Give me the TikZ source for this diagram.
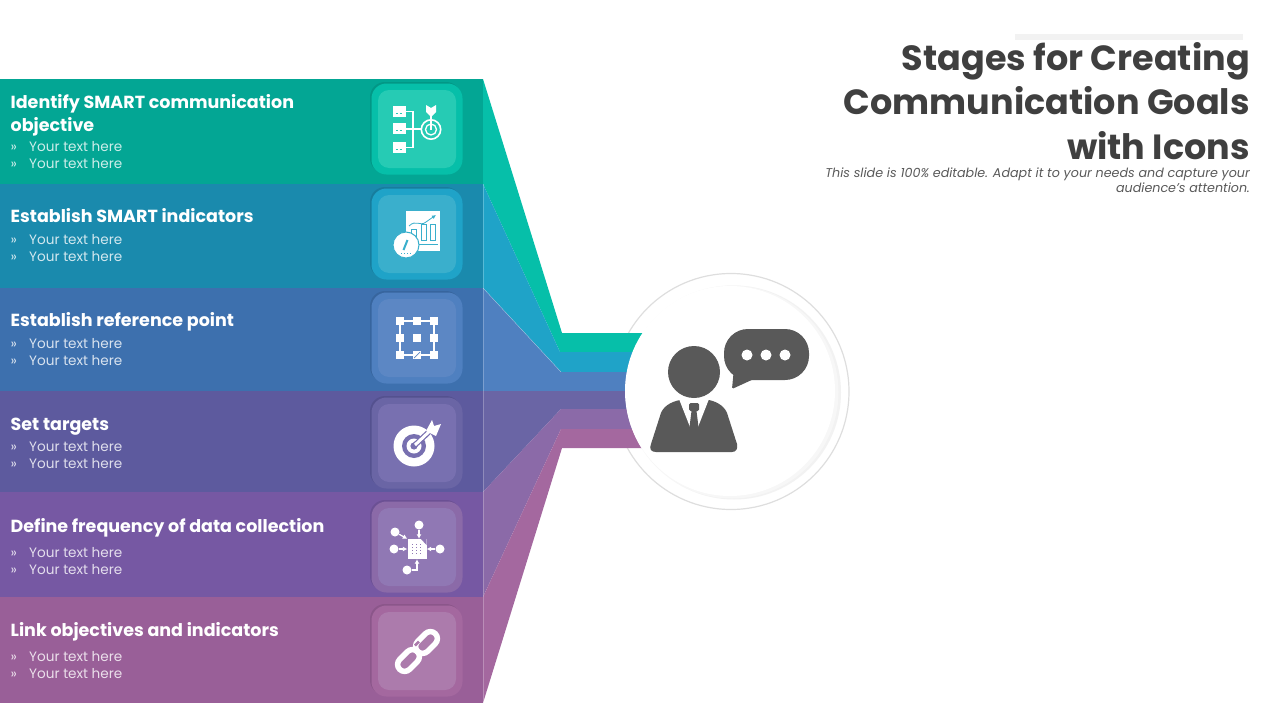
\documentclass[tikz,border=0pt]{standalone}
\usepackage{fontspec}
\setmainfont{Poppins}
\definecolor{bandA}{HTML}{03A694}
\definecolor{bandB}{HTML}{1A8AAD}
\definecolor{bandC}{HTML}{3D70AE}
\definecolor{bandD}{HTML}{5D5A9E}
\definecolor{bandE}{HTML}{7658A3}
\definecolor{bandF}{HTML}{995F98}
\definecolor{fanA}{HTML}{06BFA9}
\definecolor{fanB}{HTML}{1FA3C8}
\definecolor{fanC}{HTML}{4F80C0}
\definecolor{fanD}{HTML}{6A65A5}
\definecolor{fanE}{HTML}{8B6AA8}
\definecolor{fanF}{HTML}{A4689F}
\definecolor{padA}{HTML}{26CBB4}
\definecolor{padB}{HTML}{3AAFCC}
\definecolor{padC}{HTML}{5C87C4}
\definecolor{padD}{HTML}{7870B0}
\definecolor{padE}{HTML}{9078B4}
\definecolor{padF}{HTML}{AC7BAC}
\definecolor{inkgrey}{HTML}{595959}
\definecolor{titlegrey}{HTML}{3F3F3F}
\usetikzlibrary{arrows.meta}
\tikzset{
    heading/.style={anchor=base west,inner sep=0pt,text=white,font=\fontsize{17.5}{23}\selectfont\bfseries,align=left},
    bullets/.style={anchor=base west,inner sep=0pt,text=white,text opacity=.8,font=\fontsize{13.6}{17}\selectfont,align=left},
    titleline/.style={anchor=base east,inner sep=0pt,text=titlegrey,font=\fontsize{35}{44.5}\selectfont\bfseries},
    noteline/.style={anchor=base east,inner sep=0pt,text=inkgrey,font=\fontsize{12.7}{15}\selectfont\itshape},
    padout/.style={rounded corners=15pt,minimum size=91pt,inner sep=0pt},
    padin/.style={rounded corners=11pt,minimum size=78pt,inner sep=0pt},
    padshade/.style={rounded corners=15pt,minimum size=91pt,inner sep=0pt,fill=black,fill opacity=.09},
    icon/.style={draw=white,line width=1.3pt},
    solid white/.style={fill=white,draw=none},
    sq/.style={fill=white,minimum size=8.5pt,inner sep=0pt},
    dot/.style={circle,fill=white,minimum size=9pt,inner sep=0pt},
    bubbledot/.style={circle,fill=white,minimum size=11pt,inner sep=0pt},
    wire/.style={draw=white,line width=1.2pt,-{Latex[length=4.5pt,width=5pt]}},
    link/.style={draw=white,line width=5.5pt,rounded corners=7pt,minimum width=25pt,minimum height=14pt,inner sep=0pt,rotate=45}
}
\begin{document}
\begin{tikzpicture}[x=1pt,y=-1pt]
        \useasboundingbox (0,0) rectangle (1280,720);

        \fill[bandA] (0,79) rectangle (483,184);
        \fill[bandB] (0,184) rectangle (483,288);
        \fill[bandC] (0,288) rectangle (483,391);
        \fill[bandD] (0,391) rectangle (483,492);
        \fill[bandE] (0,492) rectangle (483,597);
        \fill[bandF] (0,597) rectangle (483,703);

        \filldraw[fill=white,draw=black!13,line width=1.2pt] (731,391.5) circle (118);

        \fill[fanA] (483,79) -- (562,333) -- (700,333) -- (700,352) -- (560,352) -- (483,184) -- cycle;
        \fill[fanB] (483,184) -- (560,352) -- (700,352) -- (700,372) -- (561,372) -- (483,288) -- cycle;
        \fill[fanC] (483,288) -- (561,372) -- (700,372) -- (700,391) -- (483,391) -- cycle;
        \fill[fanD] (483,391) -- (700,391) -- (700,409) -- (561,409) -- (483,492) -- cycle;
        \fill[fanE] (483,492) -- (561,409) -- (700,409) -- (700,429) -- (561,429) -- (483,597) -- cycle;
        \fill[fanF] (483,597) -- (561,429) -- (700,429) -- (700,448) -- (562,448) -- (483,703) -- cycle;
        \draw[white,opacity=.25,line width=.5pt] (483,184) -- (483,703);
        \draw[white,opacity=.4,line width=.4pt] (483,288) -- (561,372);

        \fill[black!5] (734,392.5) circle (107);
        \fill[black!3] (732,392) circle (106.5);
        \fill[white] (730,391) circle (105);

        \fill[black!5] (1015,34) rectangle (1243,40);
        \node[titleline] (titleA) at (1250,70.5) {Stages for Creating};
        \node[titleline] (titleB) at (1250,114.5) {Communication Goals};
        \node[titleline] (titleC) at (1250,159.5) {with Icons};
        \node[noteline] (noteA) at (1250,177) {This slide is 100\% editable. Adapt it to your needs and capture your};
        \node[noteline] (noteB) at (1250,192) {audience's attention.};

        \node[heading] (headA) at (10.5,108) {Identify SMART communication};
        \node[heading] (headAb) at (10.5,131) {objective};
        \node[heading] (headB) at (10.5,222) {Establish SMART indicators};
        \node[heading] (headC) at (10.5,326) {Establish reference point};
        \node[heading] (headD) at (10.5,430) {Set targets};
        \node[heading] (headE) at (10.5,532) {Define frequency of data collection};
        \node[heading] (headF) at (10.5,636) {Link objectives and indicators};

        \node[bullets] (markA) at (10.5,168) {»\\»};
        \node[bullets] (textA) at (29,168) {Your text here\\Your text here};
        \node[bullets] (markB) at (10.5,261) {»\\»};
        \node[bullets] (textB) at (29,261) {Your text here\\Your text here};
        \node[bullets] (markC) at (10.5,365) {»\\»};
        \node[bullets] (textC) at (29,365) {Your text here\\Your text here};
        \node[bullets] (markD) at (10.5,468) {»\\»};
        \node[bullets] (textD) at (29,468) {Your text here\\Your text here};
        \node[bullets] (markE) at (10.5,574) {»\\»};
        \node[bullets] (textE) at (29,574) {Your text here\\Your text here};
        \node[bullets] (markF) at (10.5,678) {»\\»};
        \node[bullets] (textF) at (29,678) {Your text here\\Your text here};

        \node[padshade] at (415.5,127.5) {};
        \node[padout,fill=fanA] (padA) at (417,129) {};
        \node[padin,fill=padA] at (417,129) {};
        \node[padshade] at (415.5,232.5) {};
        \node[padout,fill=fanB] (padB) at (417,234) {};
        \node[padin,fill=padB] at (417,234) {};
        \node[padshade] at (415.5,336.5) {};
        \node[padout,fill=fanC] (padC) at (417,338) {};
        \node[padin,fill=padC] at (417,338) {};
        \node[padshade] at (415.5,441.5) {};
        \node[padout,fill=fanD] (padD) at (417,443) {};
        \node[padin,fill=padD] at (417,443) {};
        \node[padshade] at (415.5,545.5) {};
        \node[padout,fill=fanE] (padE) at (417,547) {};
        \node[padin,fill=padE] at (417,547) {};
        \node[padshade] at (415.5,649.5) {};
        \node[padout,fill=fanF] (padF) at (417,651) {};
        \node[padin,fill=padF] at (417,651) {};

        \draw[icon] (406,111.5) -- (413,111.5) -- (413,147.5) -- (406,147.5);
        \draw[icon] (406,129) -- (421,129);
        \fill[white] (393,106) rectangle (406,117);
        \fill[white] (393,123) rectangle (406,134);
        \fill[white] (393,142) rectangle (406,153);
        \draw[padA,line width=.7pt,dashed,dash pattern=on 2pt off 1.5pt] (396,113.5) -- (403,113.5);
        \draw[padA,line width=.7pt,dashed,dash pattern=on 2pt off 1.5pt] (396,130.5) -- (403,130.5);
        \draw[padA,line width=.7pt,dashed,dash pattern=on 2pt off 1.5pt] (396,149.5) -- (403,149.5);
        \draw[icon,line width=1.6pt] (431,129.5) circle (9.7);
        \draw[icon] (431,129.5) circle (5.5);
        \draw[icon] (431,112) -- (431,129.5);
        \fill[white] (426,105) -- (431,108) -- (436,105) -- (436,112) -- (431,117) -- (426,112) -- cycle;

        \fill[white] (406,211) rectangle (440,251);
        \draw[padB,line width=.8pt,-{Latex[length=4pt,width=4pt]}] (409,226) .. controls (416,219) and (420,227) .. (426,222) -- (436,215);
        \draw[padB,line width=.9pt] (411,229) rectangle (416,240);
        \draw[padB,line width=.9pt] (421,224) rectangle (426,240);
        \draw[padB,line width=.9pt] (430,224) rectangle (435,240);
        \draw[padB,line width=1pt] (419,244) -- (438,244);
        \filldraw[fill=white,draw=padB,line width=1pt] (406,245) circle (13);
        \draw[padB,line width=2pt] (403.5,250) -- (407.5,240);
        \draw[padB,line width=1pt,dotted] (401,253) -- (411,253);

        \draw[icon] (400,321) rectangle (434,355);
        \node[sq] (gridA) at (400,321) {};
        \node[sq] (gridB) at (417,321) {};
        \node[sq] (gridC) at (434,321) {};
        \node[sq] (gridD) at (400,338) {};
        \node[sq] (gridE) at (417,338) {};
        \node[sq] (gridF) at (434,338) {};
        \node[sq] (gridG) at (400,355) {};
        \node[sq] (gridH) at (417,355) {};
        \node[sq] (gridI) at (434,355) {};
        \draw[padC,line width=.7pt] (414,358) -- (420,352);

        \fill[white] (414,446) circle (20.5);
        \fill[padD] (414,446) circle (12);
        \fill[white] (414,446) circle (7.5);
        \fill[padD] (414,446) circle (3.6);
        \draw[padD,line width=5.5pt] (415,445) -- (431,430);
        \draw[white,line width=3pt] (415,445) -- (433,428);
        \fill[white] (426,431) -- (432,420) -- (434,426) -- (441,424) -- (436,436) -- cycle;

        \node[solid white,minimum width=19pt,minimum height=20pt,inner sep=0pt] (sheet) at (417,549) {};
        \draw[padE,line width=1pt,dotted] (412,544) -- (412,555);
        \draw[padE,line width=1pt,dotted] (416,544) -- (416,555);
        \draw[padE,line width=1pt,dotted] (420,544) -- (420,555);
        \fill[padE] (421,539) -- (426.5,539) -- (426.5,545) -- cycle;
        \node[dot] (dotA) at (395,532) {};
        \node[dot] (dotB) at (419,525) {};
        \node[dot] (dotC) at (394,549) {};
        \node[dot] (dotD) at (440,549) {};
        \node[dot] (dotE) at (407,570) {};
        \draw[wire] (dotA) -- (sheet.north west);
        \draw[wire] (dotB) -- (sheet.north -| dotB);
        \draw[wire] (dotC) -- (sheet);
        \draw[wire] (dotD) -- (sheet);
        \draw[wire] (dotE) -| (sheet.south);

        \node[link] (linkA) at (426.5,642.5) {};
        \node[link] (linkB) at (408.5,660.5) {};
        \draw[padF,line width=2.5pt] (415,645.5) -- (419,641.5);
        \draw[white,line width=5.5pt] (419,650) -- (415.5,653.5);

        \fill[inkgrey] (694,372) circle (26);
        \fill[inkgrey] (656,452) .. controls (651,452) and (649,449) .. (651,444) -- (660,416) .. controls (662,407) and (670,402) .. (680,400) -- (709,400) .. controls (718,402) and (726,407) .. (728,416) -- (737,444) .. controls (738,449) and (736,452) .. (732,452) -- cycle;
        \fill[white] (679,399) -- (690,427) -- (698,427) -- (709,399) -- cycle;
        \fill[inkgrey,rounded corners=1.5pt] (689,403) rectangle (699,411);
        \fill[inkgrey] (691.5,411) -- (696.5,411) -- (699,431) -- (689,431) -- cycle;

        \fill[inkgrey,rounded corners=24pt] (724,329) rectangle (809,380);
        \fill[inkgrey,rounded corners=1.5pt] (734,368) -- (732,389) -- (756,378) -- cycle;
        \node[bubbledot] (talkA) at (747,355) {};
        \node[bubbledot] (talkB) at (766,355) {};
        \node[bubbledot] (talkC) at (785,355) {};
    \end{tikzpicture}
\end{document}
